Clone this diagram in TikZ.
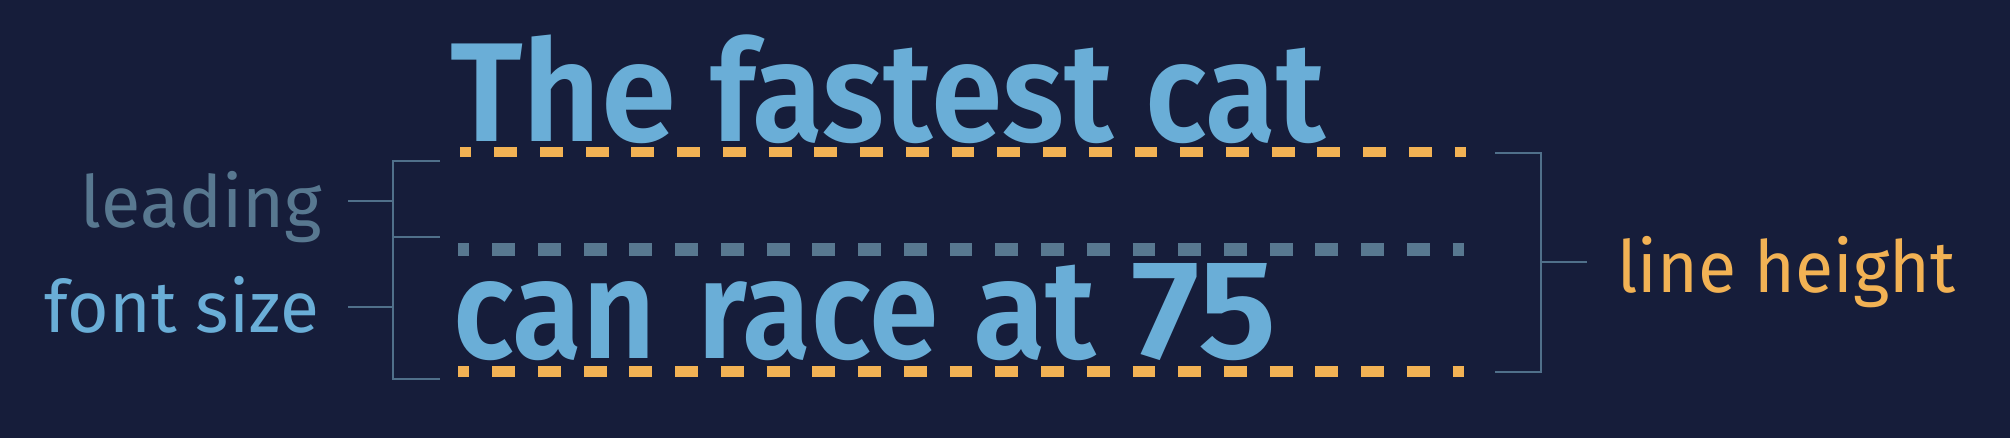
\documentclass[tikz,border=0pt]{standalone}
\usepackage{fontspec}
\usepackage{graphicx}
\setmainfont{Fira Sans}
\newfontfamily\firasemi{Fira Sans SemiBold}
\definecolor{bg}{HTML}{161D3A}
\definecolor{sky}{HTML}{6AAED7}
\definecolor{amber}{HTML}{F2B254}
\definecolor{slate}{HTML}{587890}
\definecolor{rule}{HTML}{50708A}
\tikzset{
  bigword/.style={inner sep=0pt, anchor=base west, text=sky, font=\firasemi\fontsize{141pt}{141pt}\selectfont},
  label/.style={inner sep=0pt, font=\fontsize{72pt}{72pt}\selectfont},
  dashline/.style={line width=#1, dash pattern=on 22.864pt off 22.864pt, dash phase=11.432pt},
  bracket/.style={draw=rule, line width=2pt},
}
\newcommand{\fitw}[2]{\resizebox{#1pt}{\height}{#2}}
\begin{document}
\begin{tikzpicture}[x=1pt,y=-1pt]
\fill[bg] (0,0) rectangle (2010,438);
\useasboundingbox (0,0) rectangle (2010,438);
% guide lines
\coordinate (t1) at (460,152);  \coordinate (t2) at (1466,152);
\coordinate (g1) at (458,249.5); \coordinate (g2) at (1464,249.5);
\coordinate (b1) at (458,371.3); \coordinate (b2) at (1464,371.3);
\draw[amber, dashline=10.7pt] (t1) -- (t2);
\draw[slate, dashline=12.7pt] (g1) -- (g2);
\draw[amber, dashline=10.7pt] (b1) -- (b2);
% big text, line 1
\node[bigword] (w1) at (450,142) {\fitw{226}{The}};
\node[bigword] (w2) at (710,142) {\fitw{403}{fastest}};
\node[bigword] (w3) at (1145,142) {\fitw{180}{cat}};
% big text, line 2
\node[bigword] (w4) at (453,358.5) {\fitw{203}{can}};
\node[bigword] (w5) at (697,358.5) {\fitw{241}{race}};
\node[bigword] (w6) at (973,358.5) {\fitw{123}{at}};
\node[bigword] (w7) at (1131,358.5) {\fitw{145}{75}};
% labels
\node[label, text=slate, anchor=base east] (lead) at (322,228) {\fitw{241}{leading}};
\node[label, text=sky, anchor=base east] (fsize) at (319,332) {\fitw{274}{font size}};
\node[label, text=amber, anchor=base west] (lh) at (1617,293) {\fitw{338}{line height}};
% left bracket
\coordinate (la) at (440,161); \coordinate (lb) at (440,237); \coordinate (lc) at (440,379);
\coordinate (lv1) at (393,161); \coordinate (lv2) at (393,237); \coordinate (lv3) at (393,379);
\coordinate (lt1) at (348,201); \coordinate (lt2) at (348,307);
\coordinate (lj1) at (393,201); \coordinate (lj2) at (393,307);
\draw[bracket] (la) -- (lv1) -- (lv3) -- (lc);
\draw[bracket] (lv2) -- (lb);
\draw[bracket] (lt1) -- (lj1);
\draw[bracket] (lt2) -- (lj2);
% right bracket
\coordinate (ra) at (1495,153); \coordinate (rc) at (1495,372);
\coordinate (rv1) at (1541,153); \coordinate (rv3) at (1541,372);
\coordinate (rj) at (1541,262); \coordinate (rm) at (1587,262);
\draw[bracket] (ra) -- (rv1) -- (rv3) -- (rc);
\draw[bracket] (rj) -- (rm);
\end{tikzpicture}
\end{document}
